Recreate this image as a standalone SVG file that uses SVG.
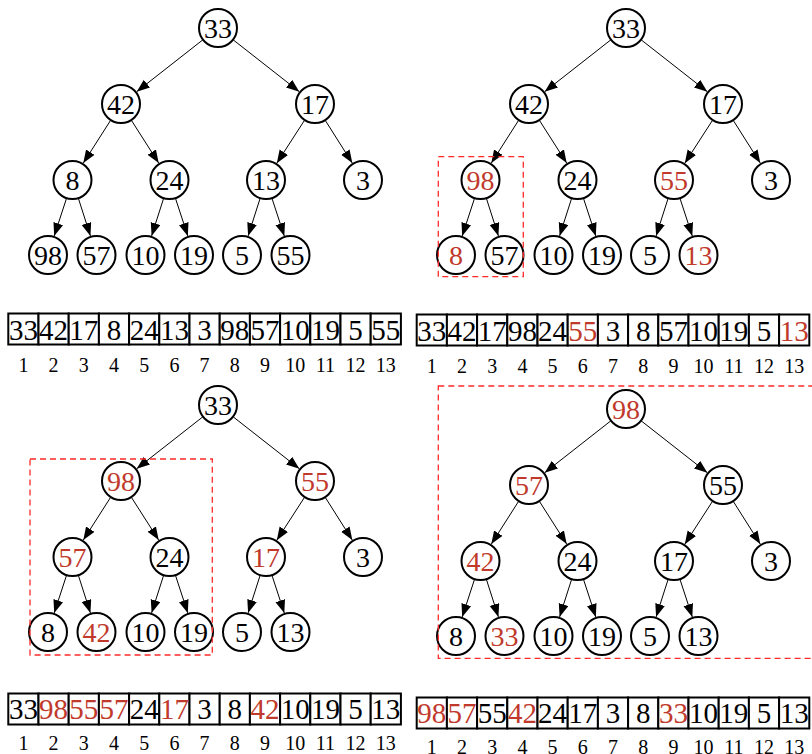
<svg xmlns="http://www.w3.org/2000/svg" width="812" height="754" viewBox="0 0 812 754">
<style>
.nd circle{fill:#fff;stroke:#000;stroke-width:2}
.nd text{font-family:"Liberation Serif","Times New Roman",serif;font-size:28px;text-anchor:middle;fill:#000}
.nd.r text{fill:#c0392b}
.edge{stroke:#000;stroke-width:1;marker-end:url(#ah)}
.cell{fill:#fff;stroke:#000;stroke-width:2}
.v{font-family:"Liberation Serif","Times New Roman",serif;font-size:29px;text-anchor:middle;fill:#000}
.v.r{fill:#c0392b}
.ix{font-family:"Liberation Serif","Times New Roman",serif;font-size:20px;text-anchor:middle;fill:#000}
.box{fill:none;stroke:#ff2a2a;stroke-width:1.3;stroke-dasharray:6,4}
</style>
<defs>
<marker id="ah" markerUnits="userSpaceOnUse" markerWidth="14" markerHeight="11" refX="13" refY="5" orient="auto">
<path d="M0,0 L13,5 L0,10 z" fill="#000"/>
</marker>
<g id="edgeset">
<line class="edge" x1="203" y1="39.7" x2="136.7" y2="91.7"/>
<line class="edge" x1="233" y1="39.7" x2="299.3" y2="91.7"/>
<line class="edge" x1="110.8" y1="120" x2="83.3" y2="163.1"/>
<line class="edge" x1="131.2" y1="120" x2="158.7" y2="163.1"/>
<line class="edge" x1="304.7" y1="120" x2="276.8" y2="163.2"/>
<line class="edge" x1="325.1" y1="120.1" x2="352.3" y2="163.1"/>
<line class="edge" x1="66.6" y1="198.1" x2="54.2" y2="236"/>
<line class="edge" x1="78.3" y1="198.1" x2="90.4" y2="235.9"/>
<line class="edge" x1="163.7" y1="198.1" x2="151.6" y2="235.9"/>
<line class="edge" x1="175.4" y1="198.1" x2="187.8" y2="236"/>
<line class="edge" x1="260.2" y1="198.1" x2="248.1" y2="235.9"/>
<line class="edge" x1="271.9" y1="198.1" x2="284.3" y2="236"/>
</g>
<g id="cells">
<rect class="cell" x="0" y="0" width="30.2" height="31"/><rect class="cell" x="30.2" y="0" width="30.2" height="31"/><rect class="cell" x="60.4" y="0" width="30.2" height="31"/><rect class="cell" x="90.6" y="0" width="30.2" height="31"/><rect class="cell" x="120.8" y="0" width="30.2" height="31"/><rect class="cell" x="151" y="0" width="30.2" height="31"/><rect class="cell" x="181.2" y="0" width="30.2" height="31"/><rect class="cell" x="211.4" y="0" width="30.2" height="31"/><rect class="cell" x="241.6" y="0" width="30.2" height="31"/><rect class="cell" x="271.8" y="0" width="30.2" height="31"/><rect class="cell" x="302" y="0" width="30.2" height="31"/><rect class="cell" x="332.2" y="0" width="30.2" height="31"/><rect class="cell" x="362.4" y="0" width="30.2" height="31"/>
</g>
<g id="idx">
<text class="ix" x="15.1" y="0">1</text><text class="ix" x="45.3" y="0">2</text><text class="ix" x="75.5" y="0">3</text><text class="ix" x="105.7" y="0">4</text><text class="ix" x="135.9" y="0">5</text><text class="ix" x="166.1" y="0">6</text><text class="ix" x="196.3" y="0">7</text><text class="ix" x="226.5" y="0">8</text><text class="ix" x="256.7" y="0">9</text><text class="ix" x="286.9" y="0">10</text><text class="ix" x="317.1" y="0">11</text><text class="ix" x="347.3" y="0">12</text><text class="ix" x="377.5" y="0">13</text>
</g>
</defs>

<!-- Tree 1 -->
<g id="tree1">
<g id="tree1-connectors"><use href="#edgeset"/></g>
<g id="t1-n1" class="nd"><circle cx="218" cy="28" r="19"/><text x="218" y="38">33</text></g>
<g id="t1-n2" class="nd"><circle cx="121" cy="104" r="19"/><text x="121" y="114">42</text></g>
<g id="t1-n3" class="nd"><circle cx="315" cy="104" r="19"/><text x="315" y="114">17</text></g>
<g id="t1-n4" class="nd"><circle cx="72.5" cy="180" r="19"/><text x="72.5" y="190">8</text></g>
<g id="t1-n5" class="nd"><circle cx="169.5" cy="180" r="19"/><text x="169.5" y="190">24</text></g>
<g id="t1-n6" class="nd"><circle cx="266" cy="180" r="19"/><text x="266" y="190">13</text></g>
<g id="t1-n7" class="nd"><circle cx="363" cy="180" r="19"/><text x="363" y="190">3</text></g>
<g id="t1-n8" class="nd"><circle cx="48" cy="255" r="19"/><text x="48" y="265">98</text></g>
<g id="t1-n9" class="nd"><circle cx="96.5" cy="255" r="19"/><text x="96.5" y="265">57</text></g>
<g id="t1-n10" class="nd"><circle cx="145.5" cy="255" r="19"/><text x="145.5" y="265">10</text></g>
<g id="t1-n11" class="nd"><circle cx="194" cy="255" r="19"/><text x="194" y="265">19</text></g>
<g id="t1-n12" class="nd"><circle cx="242" cy="255" r="19"/><text x="242" y="265">5</text></g>
<g id="t1-n13" class="nd"><circle cx="290.5" cy="255" r="19"/><text x="290.5" y="265">55</text></g>
</g>

<!-- Tree 2 -->
<g id="tree2" transform="translate(408,0)">
<g id="tree2-connectors"><use href="#edgeset"/></g>
<g id="t2-n1" class="nd"><circle cx="218" cy="28" r="19"/><text x="218" y="38">33</text></g>
<g id="t2-n2" class="nd"><circle cx="121" cy="104" r="19"/><text x="121" y="114">42</text></g>
<g id="t2-n3" class="nd"><circle cx="315" cy="104" r="19"/><text x="315" y="114">17</text></g>
<g id="t2-n4" class="nd r"><circle cx="72.5" cy="180" r="19"/><text x="72.5" y="190">98</text></g>
<g id="t2-n5" class="nd"><circle cx="169.5" cy="180" r="19"/><text x="169.5" y="190">24</text></g>
<g id="t2-n6" class="nd r"><circle cx="266" cy="180" r="19"/><text x="266" y="190">55</text></g>
<g id="t2-n7" class="nd"><circle cx="363" cy="180" r="19"/><text x="363" y="190">3</text></g>
<g id="t2-n8" class="nd r"><circle cx="48" cy="255" r="19"/><text x="48" y="265">8</text></g>
<g id="t2-n9" class="nd"><circle cx="96.5" cy="255" r="19"/><text x="96.5" y="265">57</text></g>
<g id="t2-n10" class="nd"><circle cx="145.5" cy="255" r="19"/><text x="145.5" y="265">10</text></g>
<g id="t2-n11" class="nd"><circle cx="194" cy="255" r="19"/><text x="194" y="265">19</text></g>
<g id="t2-n12" class="nd"><circle cx="242" cy="255" r="19"/><text x="242" y="265">5</text></g>
<g id="t2-n13" class="nd r"><circle cx="290.5" cy="255" r="19"/><text x="290.5" y="265">13</text></g>
</g>
<rect class="box" x="438.3" y="156.7" width="85" height="120"/>

<!-- Tree 3 -->
<g id="tree3" transform="translate(0,377)">
<g id="tree3-connectors"><use href="#edgeset"/></g>
<g id="t3-n1" class="nd"><circle cx="218" cy="28" r="19"/><text x="218" y="38">33</text></g>
<g id="t3-n2" class="nd r"><circle cx="121" cy="104" r="19"/><text x="121" y="114">98</text></g>
<g id="t3-n3" class="nd r"><circle cx="315" cy="104" r="19"/><text x="315" y="114">55</text></g>
<g id="t3-n4" class="nd r"><circle cx="72.5" cy="180" r="19"/><text x="72.5" y="190">57</text></g>
<g id="t3-n5" class="nd"><circle cx="169.5" cy="180" r="19"/><text x="169.5" y="190">24</text></g>
<g id="t3-n6" class="nd r"><circle cx="266" cy="180" r="19"/><text x="266" y="190">17</text></g>
<g id="t3-n7" class="nd"><circle cx="363" cy="180" r="19"/><text x="363" y="190">3</text></g>
<g id="t3-n8" class="nd"><circle cx="48" cy="255" r="19"/><text x="48" y="265">8</text></g>
<g id="t3-n9" class="nd r"><circle cx="96.5" cy="255" r="19"/><text x="96.5" y="265">42</text></g>
<g id="t3-n10" class="nd"><circle cx="145.5" cy="255" r="19"/><text x="145.5" y="265">10</text></g>
<g id="t3-n11" class="nd"><circle cx="194" cy="255" r="19"/><text x="194" y="265">19</text></g>
<g id="t3-n12" class="nd"><circle cx="242" cy="255" r="19"/><text x="242" y="265">5</text></g>
<g id="t3-n13" class="nd"><circle cx="290.5" cy="255" r="19"/><text x="290.5" y="265">13</text></g>
</g>
<rect class="box" x="30" y="459" width="182.3" height="196"/>

<!-- Tree 4 -->
<g id="tree4" transform="translate(408,381)">
<g id="tree4-connectors"><use href="#edgeset"/></g>
<g id="t4-n1" class="nd r"><circle cx="218" cy="28" r="19"/><text x="218" y="38">98</text></g>
<g id="t4-n2" class="nd r"><circle cx="121" cy="104" r="19"/><text x="121" y="114">57</text></g>
<g id="t4-n3" class="nd"><circle cx="315" cy="104" r="19"/><text x="315" y="114">55</text></g>
<g id="t4-n4" class="nd r"><circle cx="72.5" cy="180" r="19"/><text x="72.5" y="190">42</text></g>
<g id="t4-n5" class="nd"><circle cx="169.5" cy="180" r="19"/><text x="169.5" y="190">24</text></g>
<g id="t4-n6" class="nd"><circle cx="266" cy="180" r="19"/><text x="266" y="190">17</text></g>
<g id="t4-n7" class="nd"><circle cx="363" cy="180" r="19"/><text x="363" y="190">3</text></g>
<g id="t4-n8" class="nd"><circle cx="48" cy="255" r="19"/><text x="48" y="265">8</text></g>
<g id="t4-n9" class="nd r"><circle cx="96.5" cy="255" r="19"/><text x="96.5" y="265">33</text></g>
<g id="t4-n10" class="nd"><circle cx="145.5" cy="255" r="19"/><text x="145.5" y="265">10</text></g>
<g id="t4-n11" class="nd"><circle cx="194" cy="255" r="19"/><text x="194" y="265">19</text></g>
<g id="t4-n12" class="nd"><circle cx="242" cy="255" r="19"/><text x="242" y="265">5</text></g>
<g id="t4-n13" class="nd"><circle cx="290.5" cy="255" r="19"/><text x="290.5" y="265">13</text></g>
</g>
<rect class="box" x="438.3" y="386" width="390" height="272.3"/>

<g id="array1" transform="translate(8.3,313.5)">
<use href="#cells"/>
<text class="v" x="15.1" y="26.5">33</text><text class="v" x="45.3" y="26.5">42</text><text class="v" x="75.5" y="26.5">17</text><text class="v" x="105.7" y="26.5">8</text><text class="v" x="135.9" y="26.5">24</text><text class="v" x="166.1" y="26.5">13</text><text class="v" x="196.3" y="26.5">3</text><text class="v" x="226.5" y="26.5">98</text><text class="v" x="256.7" y="26.5">57</text><text class="v" x="286.9" y="26.5">10</text><text class="v" x="317.1" y="26.5">19</text><text class="v" x="347.3" y="26.5">5</text><text class="v" x="377.5" y="26.5">55</text>
<use href="#idx" y="58"/>
</g>

<g id="array2" transform="translate(416.7,314.5)">
<use href="#cells"/>
<text class="v" x="15.1" y="26.5">33</text><text class="v" x="45.3" y="26.5">42</text><text class="v" x="75.5" y="26.5">17</text><text class="v" x="105.7" y="26.5">98</text><text class="v" x="135.9" y="26.5">24</text><text class="v r" x="166.1" y="26.5">55</text><text class="v" x="196.3" y="26.5">3</text><text class="v" x="226.5" y="26.5">8</text><text class="v" x="256.7" y="26.5">57</text><text class="v" x="286.9" y="26.5">10</text><text class="v" x="317.1" y="26.5">19</text><text class="v" x="347.3" y="26.5">5</text><text class="v r" x="377.5" y="26.5">13</text>
<use href="#idx" y="58"/>
</g>

<g id="array3" transform="translate(8.3,693.5)">
<use href="#cells"/>
<text class="v" x="15.1" y="25">33</text><text class="v r" x="45.3" y="25">98</text><text class="v r" x="75.5" y="25">55</text><text class="v r" x="105.7" y="25">57</text><text class="v" x="135.9" y="25">24</text><text class="v r" x="166.1" y="25">17</text><text class="v" x="196.3" y="25">3</text><text class="v" x="226.5" y="25">8</text><text class="v r" x="256.7" y="25">42</text><text class="v" x="286.9" y="25">10</text><text class="v" x="317.1" y="25">19</text><text class="v" x="347.3" y="25">5</text><text class="v" x="377.5" y="25">13</text>
<use href="#idx" y="56.5"/>
</g>

<g id="array4" transform="translate(416.7,697.5)">
<use href="#cells"/>
<text class="v r" x="15.1" y="25">98</text><text class="v r" x="45.3" y="25">57</text><text class="v" x="75.5" y="25">55</text><text class="v r" x="105.7" y="25">42</text><text class="v" x="135.9" y="25">24</text><text class="v" x="166.1" y="25">17</text><text class="v" x="196.3" y="25">3</text><text class="v" x="226.5" y="25">8</text><text class="v r" x="256.7" y="25">33</text><text class="v" x="286.9" y="25">10</text><text class="v" x="317.1" y="25">19</text><text class="v" x="347.3" y="25">5</text><text class="v" x="377.5" y="25">13</text>
<use href="#idx" y="56"/>
</g>
</svg>
